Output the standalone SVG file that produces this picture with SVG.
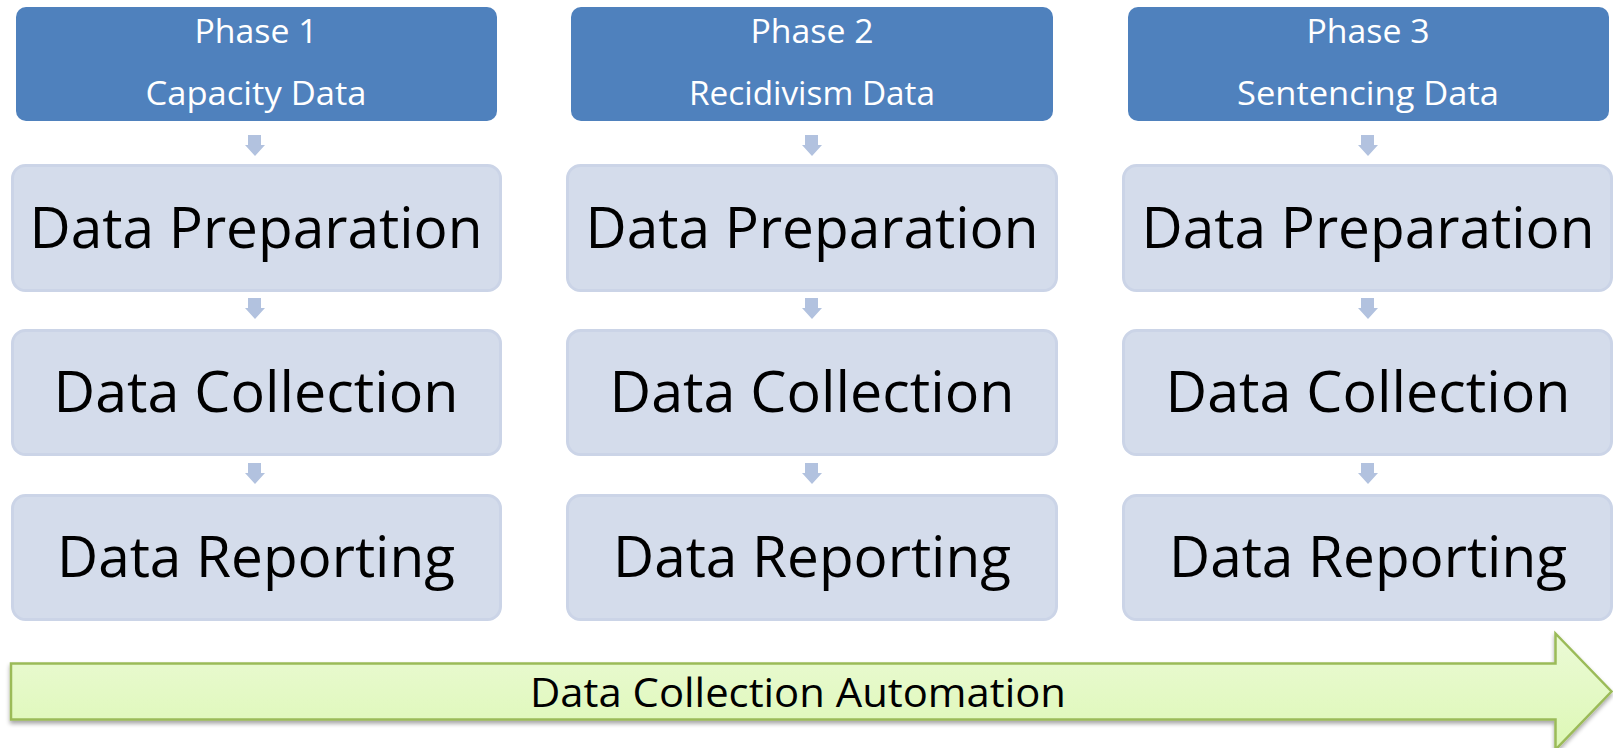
<svg xmlns="http://www.w3.org/2000/svg" width="1613" height="748" viewBox="0 0 1613 748">
<style>
.hdr{fill:#4F81BD;}
.hdrt{fill:#FFFFFF;font-family:"Open Sans","Noto Sans",sans-serif;font-size:33px;text-anchor:middle;}
.box{fill:#D4DCEB;stroke:#CBD4E7;stroke-width:3;}
.boxt{fill:#000000;font-family:"Open Sans","Noto Sans",sans-serif;font-size:57px;text-anchor:middle;}
.sarr{fill:#B2C2DF;}
.bigt{fill:#000000;font-family:"Open Sans","Noto Sans",sans-serif;font-size:40px;text-anchor:middle;}
</style>
<defs>
<linearGradient id="gg" x1="0" y1="0" x2="0" y2="1">
<stop offset="0" stop-color="#EBFAD6"/>
<stop offset="1" stop-color="#DDF8B5"/>
</linearGradient>
<filter id="sh" x="-5%" y="-20%" width="110%" height="150%">
<feGaussianBlur in="SourceAlpha" stdDeviation="2"/>
<feOffset dx="0" dy="3" result="b"/>
<feComponentTransfer><feFuncA type="linear" slope="0.35"/></feComponentTransfer>
<feMerge><feMergeNode/><feMergeNode in="SourceGraphic"/></feMerge>
</filter>
<path id="sa" d="M-7,0 H6 V10 H10 L0,21 L-10,10 H-7 Z"/>
</defs>
<rect width="1613" height="748" fill="#FFFFFF"/>

<g id="phase1">
<rect class="hdr" x="16" y="7" width="481" height="114" rx="10"/>
<text class="hdrt" x="256" y="43" textLength="123" lengthAdjust="spacingAndGlyphs">Phase 1</text>
<text class="hdrt" x="256" y="105" textLength="221" lengthAdjust="spacingAndGlyphs">Capacity Data</text>
</g>
<g id="p1-prep">
<rect class="box" x="12.5" y="165.5" width="488" height="125" rx="13"/>
<text class="boxt" x="256" y="248" textLength="453" lengthAdjust="spacingAndGlyphs">Data Preparation</text>
</g>
<g id="p1-coll">
<rect class="box" x="12.5" y="330.5" width="488" height="124" rx="13"/>
<text class="boxt" x="256" y="412" textLength="405" lengthAdjust="spacingAndGlyphs">Data Collection</text>
</g>
<g id="p1-rep">
<rect class="box" x="12.5" y="495.5" width="488" height="124" rx="13"/>
<text class="boxt" x="256" y="577" textLength="398" lengthAdjust="spacingAndGlyphs">Data Reporting</text>
</g>

<g id="phase2">
<rect class="hdr" x="571" y="7" width="482" height="114" rx="10"/>
<text class="hdrt" x="812" y="43" textLength="123" lengthAdjust="spacingAndGlyphs">Phase 2</text>
<text class="hdrt" x="812" y="105" textLength="246" lengthAdjust="spacingAndGlyphs">Recidivism Data</text>
</g>
<g id="p2-prep">
<rect class="box" x="567.5" y="165.5" width="489" height="125" rx="13"/>
<text class="boxt" x="812" y="248" textLength="453" lengthAdjust="spacingAndGlyphs">Data Preparation</text>
</g>
<g id="p2-coll">
<rect class="box" x="567.5" y="330.5" width="489" height="124" rx="13"/>
<text class="boxt" x="812" y="412" textLength="405" lengthAdjust="spacingAndGlyphs">Data Collection</text>
</g>
<g id="p2-rep">
<rect class="box" x="567.5" y="495.5" width="489" height="124" rx="13"/>
<text class="boxt" x="812" y="577" textLength="398" lengthAdjust="spacingAndGlyphs">Data Reporting</text>
</g>

<g id="phase3">
<rect class="hdr" x="1128" y="7" width="481" height="114" rx="10"/>
<text class="hdrt" x="1368" y="43" textLength="123" lengthAdjust="spacingAndGlyphs">Phase 3</text>
<text class="hdrt" x="1368" y="105" textLength="262" lengthAdjust="spacingAndGlyphs">Sentencing Data</text>
</g>
<g id="p3-prep">
<rect class="box" x="1123.5" y="165.5" width="488" height="125" rx="13"/>
<text class="boxt" x="1368" y="248" textLength="453" lengthAdjust="spacingAndGlyphs">Data Preparation</text>
</g>
<g id="p3-coll">
<rect class="box" x="1123.5" y="330.5" width="488" height="124" rx="13"/>
<text class="boxt" x="1368" y="412" textLength="405" lengthAdjust="spacingAndGlyphs">Data Collection</text>
</g>
<g id="p3-rep">
<rect class="box" x="1123.5" y="495.5" width="488" height="124" rx="13"/>
<text class="boxt" x="1368" y="577" textLength="398" lengthAdjust="spacingAndGlyphs">Data Reporting</text>
</g>

<g id="connectors">
<use href="#sa" class="sarr" x="255" y="135"/>
<use href="#sa" class="sarr" x="255" y="298"/>
<use href="#sa" class="sarr" x="255" y="463"/>
<use href="#sa" class="sarr" x="812" y="135"/>
<use href="#sa" class="sarr" x="812" y="298"/>
<use href="#sa" class="sarr" x="812" y="463"/>
<use href="#sa" class="sarr" x="1368" y="135"/>
<use href="#sa" class="sarr" x="1368" y="298"/>
<use href="#sa" class="sarr" x="1368" y="463"/>
</g>

<g id="automation">
<path d="M11,663.5 H1555.5 V633.5 L1611.5,691.5 L1555.5,749.5 V719.5 H11 Z" fill="url(#gg)" stroke="#9BBB59" stroke-width="2.5" stroke-linejoin="miter" filter="url(#sh)"/>
<text class="bigt" x="798" y="707" textLength="536" lengthAdjust="spacingAndGlyphs">Data Collection Automation</text>
</g>
</svg>
